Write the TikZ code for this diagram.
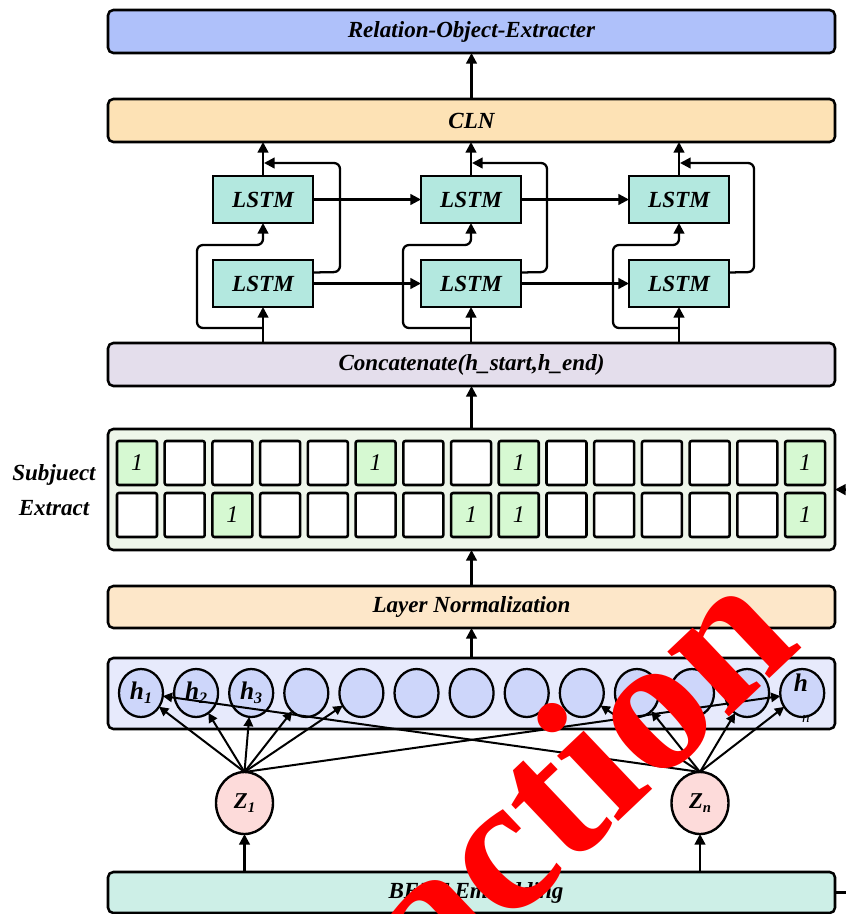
\documentclass[tikz,border=0pt]{standalone}
\usepackage{fontspec}
\setmainfont{Liberation Serif}
\usetikzlibrary{arrows.meta,shapes.geometric,calc}
\definecolor{roeblue}{HTML}{AFC1FA}
\definecolor{clnorange}{HTML}{FDE2B5}
\definecolor{lstmteal}{HTML}{B3E8DF}
\definecolor{concatlav}{HTML}{E4DEEC}
\definecolor{sebg}{HTML}{EEF6EA}
\definecolor{cellgreen}{HTML}{D6F9D2}
\definecolor{lnorange}{HTML}{FDE7C9}
\definecolor{hboxbg}{HTML}{E7EAFC}
\definecolor{hcirc}{HTML}{CDD6FA}
\definecolor{zpink}{HTML}{FDDBDA}
\definecolor{bertmint}{HTML}{CDEFE7}
\newcommand\lblfont{\fontsize{17.3}{20}\selectfont\bfseries\itshape}
\newcommand\digfont{\fontsize{18}{20}\selectfont\itshape}
\begin{document}
\begin{tikzpicture}[x=0.75pt,y=-0.75pt,
  every node/.style={inner sep=0pt,outer sep=0pt},
  bar/.style={draw,line width=1.9pt,rounded corners=4pt,minimum width=545.25pt,minimum height=#1,font=\lblfont},
  lstmbox/.style={draw,line width=1.9pt,fill=lstmteal,minimum width=75pt,minimum height=35.25pt,font=\lblfont},
  cell/.style={draw,line width=1.9pt,rounded corners=1.5pt,minimum width=30pt,minimum height=33pt,font=\digfont},
  hnode/.style={ellipse,draw,line width=1.7pt,fill=hcirc,minimum width=33pt,minimum height=36pt},
  znode/.style={ellipse,draw,line width=1.8pt,fill=zpink,minimum width=42.75pt,minimum height=46.5pt},
  arr/.style={line width=1.7pt,-{Triangle[length=8pt,width=8pt]}},
  ln/.style={line width=1.7pt},
  thin/.style={line width=1.5pt,-{Triangle[length=7pt,width=7pt]}},
  fb/.style={line width=1.7pt,rounded corners=4.5pt,-{Triangle[length=8pt,width=8pt]}}
]
\useasboundingbox (0,0) rectangle (846,914);

% main bars
\node[bar=32.25pt,fill=roeblue] (roe) at (471.5,31.5) {Relation-Object-Extracter};
\node[bar=32.25pt,fill=clnorange] (cln) at (471.5,120.5) {CLN};
\node[bar=32.25pt,fill=concatlav] (cat) at (471.5,364.5) {Concatenate(h\_start,h\_end)};
\node[bar=90.75pt,fill=sebg] (se) at (471.5,489.5) {};
\node[bar=31.5pt,fill=lnorange] (ln) at (471.5,607) {Layer Normalization};
\node[bar=53.25pt,fill=hboxbg] (hb) at (471.5,693.5) {};
\node[bar=30.75pt,fill=bertmint] (bert) at (471.5,892.5) {};
\node[font=\lblfont] (berttxt) at (476,893) {BERT Embedding};

% LSTM boxes
\node[lstmbox] (ta) at (263,199.5) {LSTM};
\node[lstmbox] (tb) at (471,199.5) {LSTM};
\node[lstmbox] (tc) at (679,199.5) {LSTM};
\node[lstmbox] (ba) at (263,283.5) {LSTM};
\node[lstmbox] (bb) at (471,283.5) {LSTM};
\node[lstmbox] (bc) at (679,283.5) {LSTM};

% arrows between bars
\draw[arr] (cln.north) -- (roe.south);
\draw[arr] (se.north) -- (cat.south);
\draw[arr] (ln.north) -- (se.south);
\draw[arr] (hb.north) -- (ln.south);

% LSTM wiring
\foreach \t/\b/\cx/\dl/\dr in {ta/ba/263/66/77, tb/bb/471/68/76, tc/bc/679/66/75}{
  \draw[arr] (cat.north -| \b) -- (\b.south);
  \draw[arr] (\t.north) -- (cln.south -| \t);
  \coordinate (br\b) at (\cx,328);
  \draw[fb] (br\b) -- (\cx-\dl,328) -- (\cx-\dl,245) -- (\cx,245) -- (\t.south);
  \coordinate (fe\b) at (\cx+1,163);
  \draw[fb] ([yshift=8.25pt]\b.east) -- (\cx+\dr,272) -- (\cx+\dr,163) -- (fe\b);
}
\draw[arr] (ta.east) -- (tb.west);
\draw[arr] (tb.east) -- (tc.west);
\draw[arr] (ba.east) -- (bb.west);
\draw[arr] (bb.east) -- (bc.west);

% Subject extract cells
\foreach \v [count=\c] in {1,0,0,0,0,1,0,0,1,0,0,0,0,0,1}{
  \ifnum\v=1
    \node[cell,fill=cellgreen] (ca\c) at ({137+(\c-1)*47.72},463) {1};
  \else
    \node[cell,fill=white] (ca\c) at ({137+(\c-1)*47.72},463) {};
  \fi
}
\foreach \v [count=\c] in {0,0,1,0,0,0,0,1,1,0,0,0,0,0,1}{
  \ifnum\v=1
    \node[cell,fill=cellgreen] (cb\c) at ({137+(\c-1)*47.72},515) {1};
  \else
    \node[cell,fill=white] (cb\c) at ({137+(\c-1)*47.72},515) {};
  \fi
}
\node[font=\lblfont,align=center] (selbl) at (54,490) {Subjuect\\[6pt]Extract};
\coordinate (sein) at (880,490);
\draw[arr] (sein) -- (se.east);

% h circles
\foreach \i in {1,...,13}{
  \node[hnode] (h\i) at ({141+(\i-1)*55.1},693) {};
}
\node[font=\fontsize{19}{20}\selectfont\bfseries\itshape] at (h1) {h\raisebox{-0.35ex}{\fontsize{12}{12}\selectfont\itshape 1}};
\node[font=\fontsize{19}{20}\selectfont\bfseries\itshape] at (h2) {h\raisebox{-0.35ex}{\fontsize{12}{12}\selectfont\itshape 2}};
\node[font=\fontsize{19}{20}\selectfont\bfseries\itshape] at (h3) {h\raisebox{-0.35ex}{\fontsize{12}{12}\selectfont\itshape 3}};
\node[font=\fontsize{19}{20}\selectfont\bfseries\itshape] (hnh) at (801,683) {h};
\node[font=\fontsize{11.5}{12}\selectfont\itshape] (hnn) at (806,719) {n};

% Z nodes
\node[znode] (z1) at (244.5,803) {\fontsize{17}{20}\selectfont\bfseries\itshape Z\raisebox{-0.35ex}{\fontsize{11}{12}\selectfont\itshape 1}};
\node[znode] (zn) at (700,803) {\fontsize{17}{20}\selectfont\bfseries\itshape Z\raisebox{-0.35ex}{\fontsize{11}{12}\selectfont\bfseries\itshape n}};
\draw[arr] (bert.north -| z1) -- (z1.south);
\draw[arr] (bert.north -| zn) -- (zn.south);
\coordinate (bertout) at (880,892.5);
\draw[ln] (bert.east) -- (bertout);

\foreach \k in {1,2,3,4,5,13}{\draw[thin] (z1.north) -- (h\k);}
\foreach \k in {9,10,12,13,1}{\draw[thin] (zn.north) -- (h\k);}

% red overlay text
\node[anchor=base,rotate=43.5,text=red,font=\fontsize{146}{146}\selectfont\bfseries] (wm) at (620,821) {action};
\end{tikzpicture}
\end{document}
